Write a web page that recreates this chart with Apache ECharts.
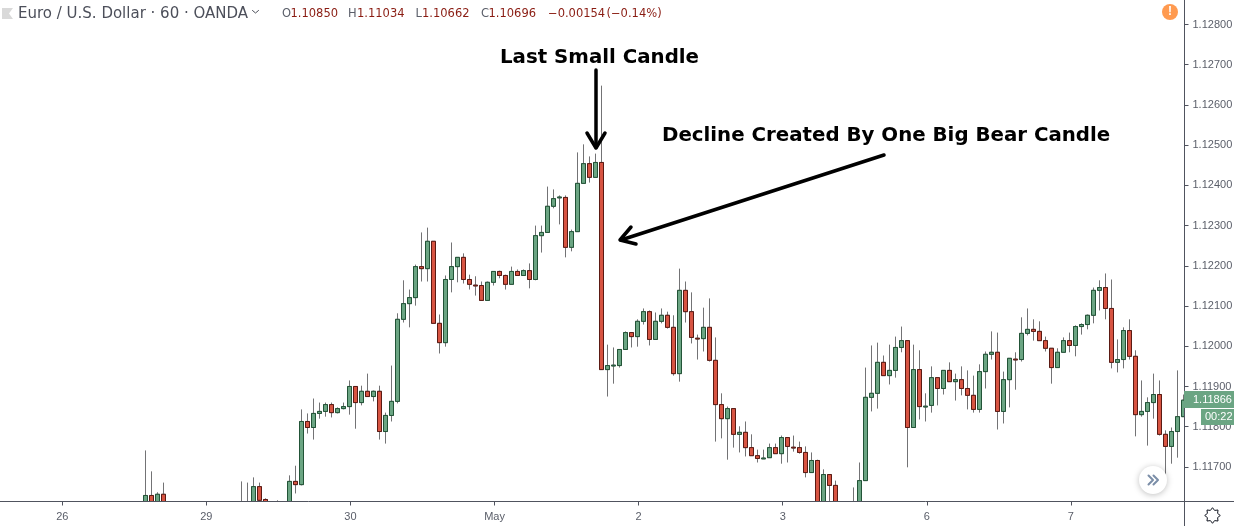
<!DOCTYPE html>
<html>
<head>
<meta charset="utf-8">
<style>html,body{margin:0;padding:0;background:#fff;overflow:hidden}#c{width:1234px;height:526px}</style>
<script src="https://cdn.jsdelivr.net/npm/echarts@6/dist/echarts.min.js"></script>
</head>
<body>
<div id="c"></div>
<script>
// Prices are in 1e-5 units (points). null = bar entirely below the visible window.
const dayLabels = ['26','29','30','May','2','3','6','7'];
const yTicks = [1.117,1.118,1.119,1.120,1.121,1.122,1.123,1.124,1.125,1.126,1.127,1.128];
const opens = [
111579,111629,111590,111632,null,null,null,null,null,null,null,null,null,null,null,null,
111600,111590,111585,111651,111619,null,111600,null,111590,111664,111656,111813,111798,111833,
111838,111855,111835,111845,111850,111900,111860,111888,111875,111888,111788,111828,111863,112067,
112106,112121,112198,112193,112261,112057,112009,112166,112198,112221,112166,112152,112151,112114,
112159,112186,112176,112154,112186,112176,112188,112166,112275,112283,112348,112369,112370,112246,
112285,112405,112454,112420,112457,111942,111951,111952,111992,112034,112024,112062,112086,112017,
112062,112077,112047,111932,112139,112086,112020,112019,112047,111965,111855,111820,111845,111781,
111786,111748,111728,111720,111723,111748,111733,111773,111749,111748,111736,111686,111716,111590,
111681,111654,null,null,111590,111590,111666,111873,111883,111960,111927,111940,111997,112014,
111798,111942,111849,111853,111922,111895,111940,111912,111917,111895,111878,111843,111937,111980,
111985,111838,111917,111968,111967,112032,112042,112037,112014,111995,111947,111985,112014,112002,
112049,112054,112077,112139,112146,112094,111960,111967,112039,111975,111830,111838,111860,111880,
111781,111751,111788,111825];
const highs = [
111741,111689,111637,111661,null,null,null,null,null,null,null,null,null,null,null,null,
111664,111661,111674,111661,111622,null,111617,null,111679,111703,111843,111833,111870,111860,
111860,111860,111848,111860,111915,111900,111902,111932,111890,111902,111835,111952,112082,112164,
112141,112203,112283,112295,112261,112079,112176,112258,112221,112231,112178,112174,112161,112161,
112186,112188,112178,112198,112191,112191,112206,112300,112300,112397,112390,112375,112375,112290,
112482,112502,112472,112479,112648,112004,111997,111992,112037,112034,112067,112094,112089,112084,
112094,112086,112077,112193,112161,112134,112029,112096,112119,112022,111883,111850,111845,111801,
111813,111781,111743,111743,111758,111758,111778,111773,111778,111763,111751,111736,111718,111694,
111681,111666,null,null,111649,111711,111947,112002,112009,111977,112004,112024,112049,112014,
112004,111990,111883,111950,111922,111940,111960,111932,111950,111940,111927,111955,111987,112037,
112034,111937,111970,111985,112072,112094,112067,112062,112024,111995,111995,112022,112034,112052,
112057,112079,112146,112164,112181,112166,112017,112047,112067,111990,111915,111873,111932,111915,
111791,111798,111940,111880];
const lows = [
111567,111560,111575,111575,null,null,null,null,null,null,null,null,null,null,null,null,
111570,111575,111570,111605,111585,null,111590,null,111580,111634,111654,111783,111768,111820,
111825,111823,111833,111843,111830,111795,111853,111875,111863,111768,111758,111813,111858,112059,
112047,112101,112161,112161,112057,111982,111999,112134,112159,112156,112141,112126,112114,112114,
112151,112169,112141,112154,112176,112176,112144,112164,112233,112283,112343,112303,112221,112236,
112285,112405,112407,112420,111942,111875,111907,111947,111992,111997,111999,112054,112002,112017,
112057,112044,111927,111912,112059,112007,111967,111987,111962,111763,111771,111718,111748,111736,
111726,111728,111711,111720,111723,111733,111708,111711,111738,111733,111674,111686,111580,111580,
111580,111570,null,null,111570,111580,111666,111838,111845,111927,111905,111922,111985,111699,
111798,111818,111813,111835,111853,111880,111912,111865,111878,111843,111835,111835,111895,111967,
111793,111808,111848,111892,111962,112027,112014,112014,111987,111907,111947,111985,111985,111975,
112029,112042,112057,112089,112067,111945,111935,111945,111967,111776,111825,111753,111820,111778,
111669,111708,111723,111825];
const closes = [
111629,111585,111632,111600,null,null,null,null,null,null,null,null,null,null,null,null,
111590,111600,111651,111617,111595,null,111605,null,111664,111656,111813,111798,111833,111838,
111855,111835,111845,111850,111900,111860,111888,111875,111888,111788,111828,111863,112067,112106,
112121,112198,112193,112261,112057,112009,112166,112198,112221,112166,112154,112150,112114,112159,
112186,112176,112154,112186,112176,112188,112166,112275,112283,112348,112367,112371,112246,112285,
112405,112454,112420,112457,111942,111952,111953,111992,112034,112024,112062,112086,112017,112062,
112077,112047,111932,112139,112086,112022,112018,112047,111965,111855,111820,111845,111781,111786,
111748,111728,111721,111722,111748,111733,111773,111751,111747,111736,111686,111716,111590,111681,
111654,111590,null,null,111600,111666,111873,111883,111960,111927,111940,111997,112014,111798,
111942,111850,111851,111922,111895,111940,111912,111917,111895,111878,111843,111937,111980,111985,
111838,111917,111970,111966,112032,112042,112037,112014,111995,111947,111985,112014,112002,112049,
112054,112077,112139,112146,112094,111960,111967,112039,111975,111830,111838,111860,111880,111781,
111751,111788,111825,111866];

const leadBars = 24;
const pad = new Array(leadBars).fill(0);
const barCount = leadBars + opens.length;
const categories = Array.from({length: barCount}, (_, i) =>
  i % 24 === 10 ? dayLabels[(i - 10) / 24] : '');
const px = v => v === null ? '-' : v / 100000;
const empty = ['-','-','-','-'];
const full = pad.map(() => empty).concat(opens.map((o, i) =>
  o === null ? empty : [px(o), px(closes[i]), px(lows[i]), px(highs[i])]));
const bodies = pad.map(() => empty).concat(opens.map((o, i) =>
  o === null ? empty : [px(o), px(closes[i]), px(Math.min(o, closes[i])), px(Math.max(o, closes[i]))]));

const AXIS = '#50535e', LABEL = '#5a5e69', UP = '#6ba583', DOWN = '#d75442';
const sans = '"Liberation Sans", Arial, sans-serif';
const headFont = '"DejaVu Sans", sans-serif';
const VAL = '#8a1c12', KEY = '#5a5e69', small = '11.5px ' + headFont;
const T = (x, y, text, fill, font, extra) => ({type:'text', z:12, silent:true,
  style:Object.assign({x, y, text, fill, font, textVerticalAlign:'middle'}, extra||{})});
const L = (pts, stroke, lineWidth, z) => ({type:'polyline', z:z||12, silent:true,
  shape:{points:pts}, style:{stroke, lineWidth, fill:null, lineJoin:'round', lineCap:'round'}});

const gearPts = [];
for (let i = 0; i < 16; i++) {
  const a = i * Math.PI / 8, r = i % 2 ? 5.5 : 7.8;
  gearPts.push([1212.5 + r * Math.cos(a), 515.5 + r * Math.sin(a)]);
}

const barStep = 6.004, gridLeft = -1.798, plotWidth = barCount * barStep;
const mainGrid = {left:gridLeft, top:0, width:plotWidth, height:501.5, outerBoundsMode:'none', containLabel:false};

const graphic = [
  {type:'rect', z:5, silent:true, shape:{x:1184.5,y:0,width:60,height:526}, style:{fill:'#fff'}},
  {type:'rect', z:5, silent:true, shape:{x:-5,y:501.5,width:1245,height:30}, style:{fill:'#fff'}},
  L([[0,501.5],[1234,501.5]], AXIS, 1, 7),
  L([[1184.5,0],[1184.5,526]], AXIS, 1, 7),
  // header
  {type:'polygon', z:12, silent:true, shape:{points:[[2,8],[13,8],[9,13.5],[13,19],[2,19]]}, style:{fill:'#d9d9d9'}},
  T(18, 14, 'Euro / U.S. Dollar · 60 · OANDA', '#4c4f5a', '500 15px ' + headFont),
  L([[252.5,10.5],[255.5,13],[258.5,10.5]], '#4c4f5a', 1),
  T(282, 14, 'O', KEY, small),
  T(290.5, 14, '1.10850', VAL, small),
  T(348, 14, 'H', KEY, small),
  T(357, 14, '1.11034', VAL, small),
  T(415.5, 14, 'L', KEY, small),
  T(422, 14, '1.10662', VAL, small),
  T(481, 14, 'C', KEY, small),
  T(488.5, 14, '1.10696', VAL, small),
  T(548, 14, '−0.00154', VAL, small),
  T(606.5, 14, '(−0.14%)', VAL, small),
  // alert
  {type:'circle', z:12, silent:true, shape:{cx:1170,cy:12,r:8}, style:{fill:'#ff9a50'}},
  T(1170, 12, '!', '#fff', 'bold 12px ' + sans, {textAlign:'center'}),
  // annotations
  T(500, 58, 'Last Small Candle', '#000', 'bold 19.8px ' + headFont),
  T(662, 136, 'Decline Created By One Big Bear Candle', '#000', 'bold 19.8px ' + headFont),
  L([[596,70],[596,147]], '#000', 3.5, 13),
  L([[587,133],[596,148],[605,133]], '#000', 3.5, 13),
  L([[884,155],[621,240]], '#000', 3.5, 13),
  L([[631,227],[620,240],[636,244]], '#000', 3.5, 13),
  // price tags
  {type:'rect', z:10, silent:true, shape:{x:1184,y:391,width:50,height:17}, style:{fill:UP}},
  T(1193, 399.5, '1.11866', '#fff', '11px ' + sans),
  {type:'rect', z:10, silent:true, shape:{x:1201,y:409,width:33,height:16}, style:{fill:UP}},
  T(1205, 417, '00:22', '#fff', '11px ' + sans),
  // scroll button
  {type:'circle', z:12, silent:true, shape:{cx:1153,cy:480,r:14}, style:{fill:'#fff', shadowBlur:6, shadowColor:'rgba(0,0,0,.25)', shadowOffsetY:1}},
  L([[1148.5,475.5],[1153,480],[1148.5,484.5]], '#7b8ea8', 2, 13),
  L([[1153.5,475.5],[1158,480],[1153.5,484.5]], '#7b8ea8', 2, 13),
  // settings
  {type:'polygon', z:12, silent:true, shape:{points:gearPts}, style:{fill:'#fff', stroke:'#131722', lineWidth:1}}
];

const chart = echarts.init(document.getElementById('c'), null, {renderer:'canvas'});
chart.setOption({
  animation:false,
  backgroundColor:'#fff',
  grid:[mainGrid, Object.assign({}, mainGrid, {left:gridLeft + 1})],
  xAxis:[
    {type:'category', gridIndex:0, data:categories, boundaryGap:true, show:false},
    {type:'category', gridIndex:1, data:categories, boundaryGap:true, z:6,
      axisLine:{show:false},
      axisTick:{show:true, length:4, alignWithLabel:true, interval:(i,v)=>v!=='', lineStyle:{color:AXIS}},
      axisLabel:{interval:(i,v)=>v!=='', color:LABEL, fontFamily:sans, fontSize:11, margin:10},
      splitLine:{show:false}}
  ],
  yAxis:[
    {type:'value', gridIndex:0, position:'right', offset:1184.5-(plotWidth+gridLeft), scale:true, z:6,
      min:1.128-477/40220, max:1.128+24.5/40220,
      axisLine:{show:false},
      axisTick:{show:true, length:4, customValues:yTicks, lineStyle:{color:AXIS}},
      axisLabel:{color:LABEL, fontFamily:sans, fontSize:11, margin:8, customValues:yTicks, formatter:v=>v.toFixed(5)},
      splitLine:{show:false}},
    {type:'value', gridIndex:1, show:false, min:0, max:1}
  ],
  series:[
    {type:'candlestick', xAxisIndex:0, yAxisIndex:0, data:full, barWidth:4.5, clip:true, silent:true,
      itemStyle:{color:'#737375', color0:'#737375', borderColor:'#737375', borderColor0:'#737375', borderWidth:1}},
    {type:'candlestick', xAxisIndex:0, yAxisIndex:0, data:bodies, barWidth:4.5, clip:true, silent:true,
      itemStyle:{color:UP, color0:DOWN, borderColor:'#225437', borderColor0:'#5b1a13', borderWidth:1}}
  ],
  graphic:{elements:graphic}
});
</script>
</body>
</html>
